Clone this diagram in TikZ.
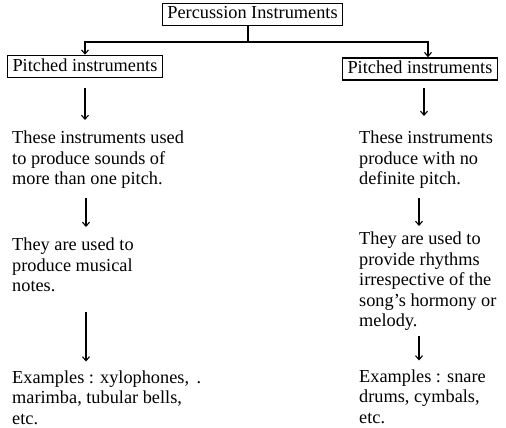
\documentclass[tikz,border=0pt]{standalone}
\usepackage{fontspec}
\setmainfont{Liberation Serif}
\usetikzlibrary{arrows.meta}
\begin{document}
\begin{tikzpicture}[x=1pt,y=1pt,
  txt/.style={font=\fontsize{18.3}{20.5}\selectfont, align=left, inner sep=0pt, anchor=north west},
  boxed/.style={draw, line width=1.6pt, font=\fontsize{18.3}{20.5}\selectfont, inner xsep=5pt, inner ysep=2.5pt, text height=13pt, text depth=4pt},
  arr/.style={line width=1.1pt, -{Straight Barb[length=4pt,width=7pt]}},
  ln/.style={line width=1.1pt}]
\useasboundingbox (0,0) rectangle (506,-428);
\node[boxed] (top) at (252.5,-14.5) {Percussion Instruments};
\node[boxed] (pl) at (85,-66.5) {Pitched instruments};
\node[boxed] (pr) at (420,-69) {Pitched instruments};
\coordinate (j) at (248,-42);
\draw[ln] (top.south -| j) -- (j);
\draw[arr] (j) -| ([xshift=0pt]pl.north);
\draw[arr] (j) -| ([xshift=8pt]pr.north);

\node[txt] (L1) at (12,-131) {These instruments used\\to produce sounds of\\more than one pitch.};
\node[txt] (L2) at (12,-238) {They are used to\\produce musical\\notes.};
\node[txt] (L3) at (12,-370.5) {Examples : xylophones, \,.\\marimba, tubular bells,\\etc.};
\node[txt] (R1) at (359,-131) {These instruments\\produce with no\\definite pitch.};
\node[txt] (R2) at (359,-232) {They are used to\\provide rhythms\\irrespective of the\\song’s hormony or\\melody.};
\node[txt] (R3) at (359,-369.5) {Examples : snare\\drums, cymbals,\\etc.};

\draw[arr, shorten <=10pt, shorten >=11pt] (pl.south) -- (pl.south |- L1.north);
\draw[arr, shorten <=9pt, shorten >=11pt] ([xshift=1pt]pl.south |- L1.south) -- ([xshift=1pt]pl.south |- L2.north);
\draw[arr, shorten <=20pt, shorten >=9pt] ([xshift=1pt]pl.south |- L2.south) -- ([xshift=1pt]pl.south |- L3.north);

\draw[arr, shorten <=7pt, shorten >=15pt] ([xshift=4pt]pr.south) -- ([xshift=4pt]pr.south |- R1.north);
\draw[arr, shorten <=9pt, shorten >=6pt] ([xshift=-1pt]pr.south |- R1.south) -- ([xshift=-1pt]pr.south |- R2.north);
\draw[arr, shorten <=5pt, shorten >=9pt] ([xshift=-1pt]pr.south |- R2.south) -- ([xshift=-1pt]pr.south |- R3.north);
\end{tikzpicture}
\end{document}
